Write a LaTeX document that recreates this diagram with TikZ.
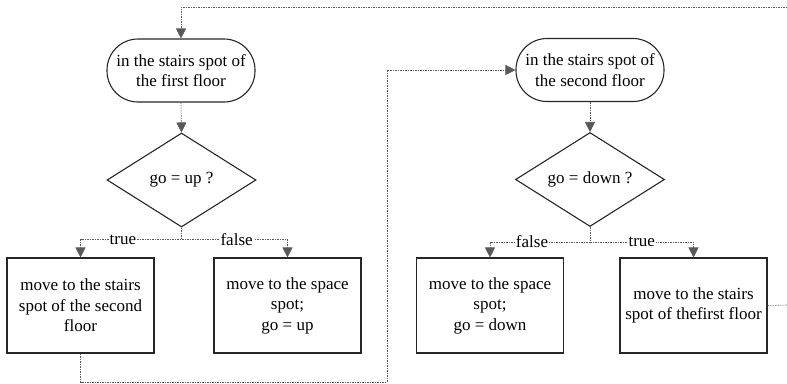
\documentclass[tikz,border=0pt]{standalone}
\usepackage{fontspec}
\setmainfont{Liberation Serif}
\usetikzlibrary{shapes.geometric,arrows.meta}
\begin{document}
\begin{tikzpicture}[x=1pt,y=-1pt,
  every node/.style={font=\rmfamily\fontsize{17}{20.5}\selectfont, text=black},
  term/.style={draw=black!85, line width=1.1pt, rounded corners=31pt,
    minimum width=148pt, minimum height=63pt, inner sep=0pt, align=center},
  decide/.style={draw=black!85, line width=1.1pt, diamond, aspect=1.6,
    minimum width=149pt, minimum height=94pt, inner sep=0pt},
  action/.style={draw=black!85, line width=1.1pt, minimum width=147pt,
    minimum height=95pt, inner sep=0pt, align=center},
  flow/.style={draw=black!55, line width=0.6pt, dash pattern=on 1.5pt off 1pt},
  tip/.style={-{Triangle[length=10pt,width=10pt]}, black!65},
  lbl/.style={fill=white, inner sep=1pt}]
\useasboundingbox (0,0) rectangle (787,383);

% first floor
\node[term] (t1) at (181,70.5) {in the stairs spot of\\the first floor};
\node[decide] (d1) at (181.5,180) {go = up ?};
\node[action] (a1) at (80.5,305.5) {move to the stairs\\spot of the second\\floor};
\node[action] (b1) at (287.5,305.5) {move to the space\\spot;\\go = up};

% second floor
\node[term] (t2) at (590,70) {in the stairs spot of\\the second floor};
\node[decide] (d2) at (590,179.5) {go = down ?};
\node[action] (a2) at (490,305.5) {move to the space\\spot;\\go = down};
\node[action] (b2) at (693.5,305.5) {move to the stairs\\spot of thefirst floor};

% loose ends of the loop leaving the right border
\coordinate (rin) at (787,7);
\coordinate (rout) at (787,305);

% vertical links
\draw[flow,tip] (t1.south) -- (d1.north);
\draw[flow,tip] (t2.south) -- (d2.north);

% branches of the first decision
\draw[flow,tip] (d1.south) -- ++(0,12) -| node[lbl,pos=0.29]{true} (a1.north);
\draw[flow,tip] (d1.south) -- ++(0,12) -| node[lbl,pos=0.26]{false} (b1.north);

% branches of the second decision
\draw[flow,tip] (d2.south) -- ++(0,15) -| node[lbl,pos=0.29]{false} (a2.north);
\draw[flow,tip] (d2.south) -- ++(0,15) -| node[lbl,pos=0.25]{true} (b2.north);

% go up to the second floor
\draw[flow,tip] (a1.south) -- (80.5,382) -- (387,382) -- (387,70) -- (t2.west);

% back to the first floor
\draw[flow] (b2.east) -- (rout);
\draw[flow,tip] (rin) -| (t1.north);
\end{tikzpicture}
\end{document}
